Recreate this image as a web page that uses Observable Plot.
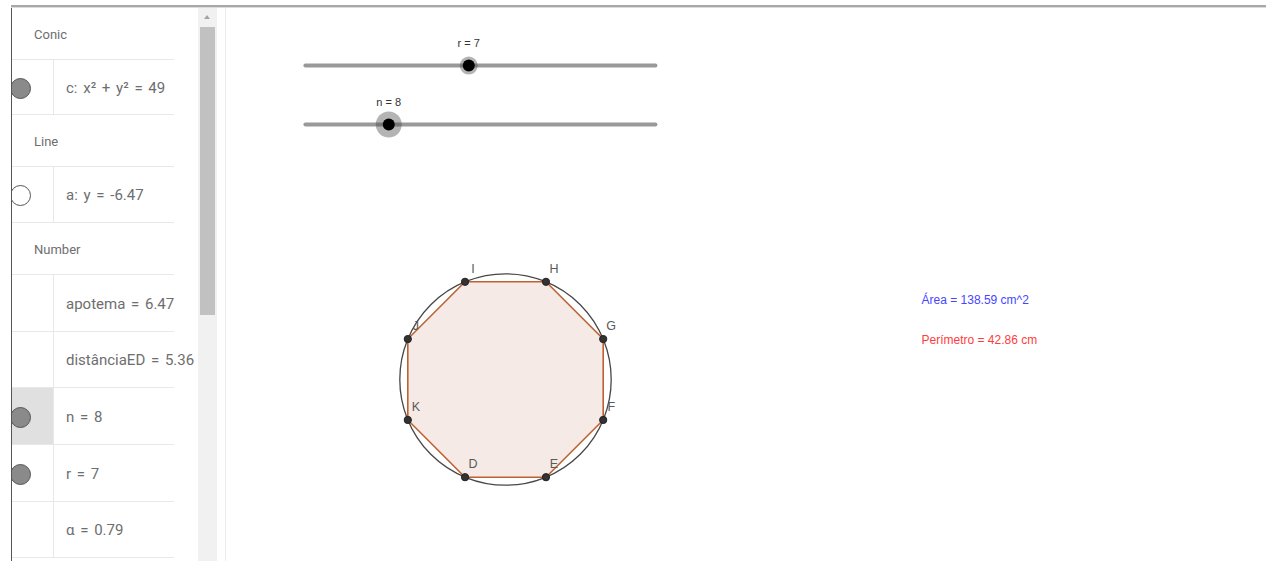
<!DOCTYPE html>
<html>
<head>
<meta charset="utf-8">
<script src="https://cdn.jsdelivr.net/npm/d3@7"></script>
<script src="https://cdn.jsdelivr.net/npm/@observablehq/plot@0.6"></script>
<style>
  html, body { margin: 0; padding: 0; background: #fff; }
  body { width: 1266px; height: 561px; overflow: hidden; position: relative; font-family: Roboto, "Noto Sans", sans-serif; }
  #topline { position: absolute; left: 11px; top: 5px; width: 1255px; height: 2px; background: #a8a8a8; border-bottom: 1px solid #dcdcdc; }
  #panel { position: absolute; left: 11px; top: 8px; width: 187px; height: 553px; overflow: hidden; border-left: 1px solid #555; }
  .row { position: absolute; left: 0; width: 162px; border-bottom: 1px solid #e8e8e8; }
  .txt { position: absolute; color: #6e6e6e; font-size: 15px; word-spacing: 2px; white-space: nowrap; transform: translateY(-50%); }
  .icon { position: absolute; width: 19px; height: 19px; border-radius: 50%; border: 1px solid #555; }
  .vdiv { position: absolute; left: 41px; width: 1px; background: #e8e8e8; }
  #track { position: absolute; left: 198px; top: 8px; width: 19px; height: 553px; background: #f1f1f1; }
  #thumb { position: absolute; left: 200px; top: 27px; width: 15px; height: 288px; background: #c1c1c1; }
  #arrow { position: absolute; left: 204px; top: 15px; width: 0; height: 0; border-left: 3px solid transparent; border-right: 3px solid transparent; border-bottom: 4px solid #a3a3a3; }
  #sep { position: absolute; left: 225px; top: 8px; width: 1px; height: 553px; background: #ececec; }
  #graphics { position: absolute; left: 226px; top: 8px; }
</style>
</head>
<body>
<div id="topline"></div>
<div id="panel"></div>
<div id="track"></div>
<div id="thumb"></div>
<div id="arrow"></div>
<div id="sep"></div>
<div id="graphics"></div>
<script>
// ---------- Algebra view rows ----------
const rowLabels = ["Conic", "c: x² + y² = 49", "Line", "a: y = -6.47", "Number",
  "apotema = 6.47", "distânciaED = 5.36", "n = 8", "r = 7", "α = 0.79"];
const rowIsHeader = [true, false, true, false, true, false, false, false, false, false];
const rowIcon = ["", "filled", "", "open", "", "", "", "filled", "filled", ""];
const rowSelected = [false, false, false, false, false, false, false, true, false, false];

// ---------- Graphics view data ----------
const vertexNames = ["D", "E", "F", "G", "H", "I", "J", "K"];
const vertexX = [-2.68, 2.68, 6.47, 6.47, 2.68, -2.68, -6.47, -6.47];
const vertexY = [-6.47, -6.47, -2.68, 2.68, 6.47, 6.47, 2.68, -2.68];
const circleRadius = 7;

const sliderNames = ["r", "n"];
const sliderValues = [7, 8];
const sliderMin = [0, 3];
const sliderMax = [15, 24];

const infoLabels = ["Área = 138.59 cm^2", "Perímetro = 42.86 cm"];
const infoColors = ["#4646ff", "#ff3c3c"];

// ---------- Layout (pixels) ----------
const rowTops = [0, 52, 107, 159, 215, 267, 324, 380, 437, 494, 550];

const panel = document.getElementById("panel");
rowLabels.forEach((label, i) => {
  const top = rowTops[i], h = rowTops[i + 1] - rowTops[i];
  const row = document.createElement("div");
  row.className = "row";
  row.style.top = top + "px";
  row.style.height = (h - 1) + "px";
  panel.appendChild(row);
  if (rowSelected[i]) {
    const bg = document.createElement("div");
    bg.style.cssText = `position:absolute;left:0;top:${top}px;width:41px;height:${h - 1}px;background:#e0e0e0;`;
    panel.appendChild(bg);
  }
  if (!rowIsHeader[i]) {
    const v = document.createElement("div");
    v.className = "vdiv";
    v.style.top = top + "px";
    v.style.height = h + "px";
    panel.appendChild(v);
  }
  if (rowIcon[i]) {
    const ic = document.createElement("div");
    ic.className = "icon";
    ic.style.left = "-2px";
    ic.style.top = (top + h / 2 - 10) + "px";
    ic.style.background = rowIcon[i] === "filled" ? "#8a8a8a" : "#fff";
    panel.appendChild(ic);
  }
  const t = document.createElement("div");
  t.className = "txt";
  t.textContent = label;
  t.style.left = (rowIsHeader[i] ? 22 : 54) + "px";
  t.style.top = (top + h / 2) + "px";
  if (rowIsHeader[i]) { t.style.fontSize = "13px"; t.style.wordSpacing = "0"; }
  panel.appendChild(t);
});

// ---------- Graphics view with Plot ----------
const k = 15.1;            // pixels per unit
const W = 1040, H = 553;
const ox = 279, oy = 371;  // origin position inside the plot
const sliderX0 = -13.25, sliderLen = 23.18;
const sliderY = [20.79, 16.89];
const haloR = [9, 13];
const infoX = 27.55, infoY = [5.23, 2.58];

const vertices = vertexNames.map((name, i) => ({name, x: vertexX[i], y: vertexY[i]}));
const closed = [...vertices, vertices[0]];
const circle = [{x: 0, y: 0, r: circleRadius}];
const sliders = sliderNames.map((name, i) => ({
  name,
  label: `${name} = ${sliderValues[i]}`,
  x1: sliderX0, x2: sliderX0 + sliderLen, y: sliderY[i],
  kx: sliderX0 + sliderLen * (sliderValues[i] - sliderMin[i]) / (sliderMax[i] - sliderMin[i]),
  halo: haloR[i]
}));
const info = infoLabels.map((t, i) => ({t, x: infoX, y: infoY[i], c: infoColors[i]}));

const chart = Plot.plot({
  width: W, height: H,
  margin: 0,
  style: {fontFamily: "'Liberation Sans', Arial, sans-serif", background: "transparent", overflow: "visible"},
  x: {domain: [-ox / k, (W - ox) / k], axis: null},
  y: {domain: [-(H - oy) / k, oy / k], axis: null},
  r: {type: "linear", domain: [0, 1], range: [0, k]},
  marks: [
    Plot.line(closed, {x: "x", y: "y", fill: "#993300", fillOpacity: 0.1, stroke: "none"}),
    Plot.dot(circle, {x: "x", y: "y", r: "r", fill: "none", stroke: "#474747", strokeWidth: 1.3}),
    Plot.line(closed, {x: "x", y: "y", stroke: "#bf6233", strokeWidth: 1.6, fill: "none"}),
    Plot.dot(vertices, {x: "x", y: "y", r: () => 0.24, fill: "#333", stroke: "#222", strokeWidth: 1}),
    Plot.text(vertices, {x: "x", y: "y", text: "name", dx: 8, dy: -13, fill: "#5a5a5a", fontSize: 12.5}),
    Plot.link(sliders, {x1: "x1", x2: "x2", y1: "y", y2: "y", stroke: "#999", strokeWidth: 4, strokeLinecap: "round"}),
    Plot.dot(sliders, {x: "kx", y: "y", r: d => d.halo / k, fill: "#444", fillOpacity: 0.4, stroke: "none"}),
    Plot.dot(sliders, {x: "kx", y: "y", r: () => 6 / k, fill: "#000", stroke: "none"}),
    Plot.text(sliders, {x: "kx", y: "y", text: "label", dy: -22, fill: "#333", fontSize: 11}),
    Plot.text(info, {x: "x", y: "y", text: "t", fill: "c", textAnchor: "start", fontSize: 12})
  ]
});
document.getElementById("graphics").appendChild(chart);
</script>
</body>
</html>
